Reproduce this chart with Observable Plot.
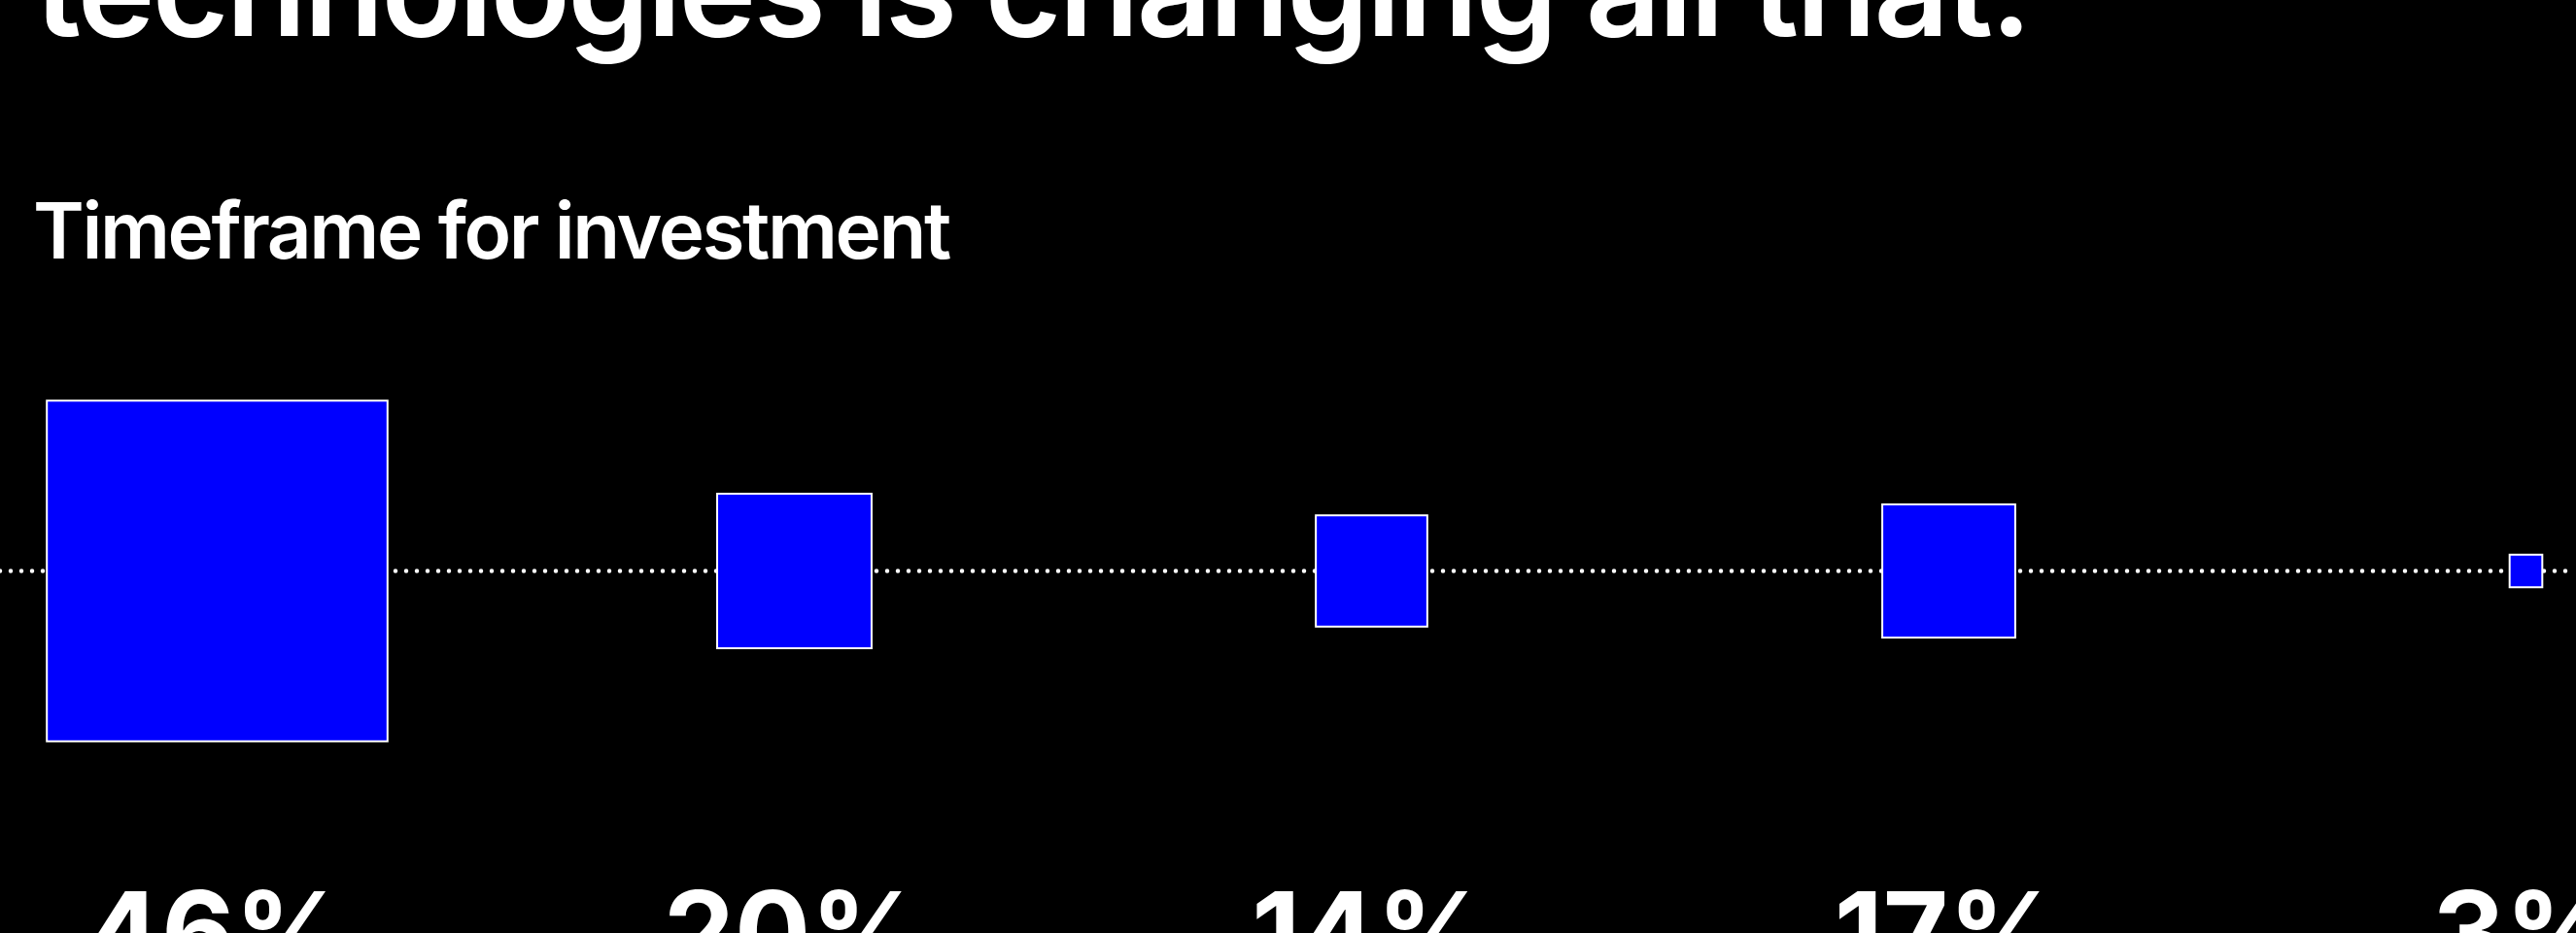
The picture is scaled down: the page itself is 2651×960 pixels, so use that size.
<!DOCTYPE html>
<html>
<head>
<meta charset="utf-8">
<script src="https://cdn.jsdelivr.net/npm/d3@7"></script>
<script src="https://cdn.jsdelivr.net/npm/@observablehq/plot@0.6"></script>
<style>
html, body { margin: 0; padding: 0; background: #000; width: 2651px; height: 960px; overflow: hidden; }
body { position: relative; font-family: Inter, "Noto Sans", sans-serif; color: #fff; }
#title { position: absolute; left: 36px; top: -79px; font-size: 135px; line-height: 1; font-weight: 600; white-space: nowrap; letter-spacing: -0.02em; }
#subtitle { position: absolute; left: 34px; top: 197px; font-size: 80px; line-height: 1; font-weight: 600; white-space: nowrap; letter-spacing: -0.03em; }
#chart { position: absolute; left: 0; top: 300px; }
</style>
</head>
<body>
<div id="title">technologies is changing all that.</div>
<div id="subtitle">Timeframe for investment</div>
<div id="chart"></div>
<script>
// Data
const timeframes = ["Timeframe 1", "Timeframe 2", "Timeframe 3", "Timeframe 4", "Timeframe 5"];
const shares = [46, 20, 14, 17, 3];

const data = timeframes.map((t, i) => ({timeframe: t, value: shares[i]}));

const chart = Plot.plot({
  width: 2651,
  height: 700,
  marginTop: 0,
  marginLeft: 0,
  marginRight: 0,
  marginBottom: 126,
  style: {background: "transparent", color: "white", overflow: "visible"},
  x: {type: "point", domain: timeframes, range: [222, 2600], padding: 0, axis: null},
  y: {domain: [-1, 1], axis: null},
  r: {type: "linear", domain: [0, 46], range: [6.5, 197.8]},
  marks: [
    Plot.ruleY([0], {stroke: "white", strokeWidth: 4.5, strokeDasharray: "0 11", strokeLinecap: "round"}),
    Plot.dot(data, {x: "timeframe", r: "value", symbol: "square", fill: "#0000ff", stroke: "white", strokeWidth: 2, fillOpacity: 1}),
    Plot.text(data, {x: "timeframe", text: d => d.value + "%", frameAnchor: "bottom", lineAnchor: "top", dy: 44, fill: "white", fontSize: 116, fontWeight: 700, fontFamily: "Inter, 'Noto Sans', sans-serif"})
  ]
});
document.getElementById("chart").appendChild(chart);
</script>
</body>
</html>
